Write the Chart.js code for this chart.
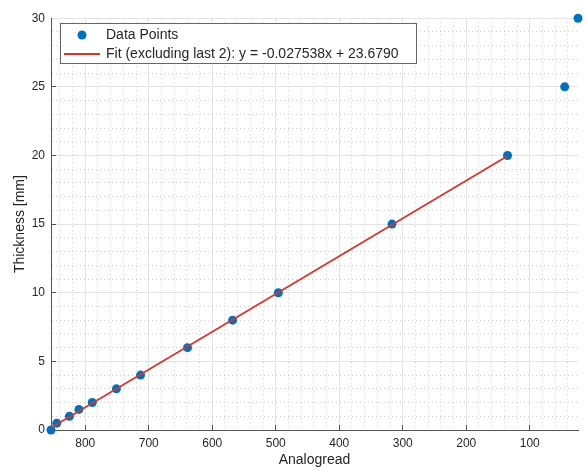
<!DOCTYPE html>
<html>
<head>
<meta charset="utf-8">
<script src="https://cdn.jsdelivr.net/npm/chart.js@4.4.0/dist/chart.umd.min.js"></script>
<style>
  html, body { margin: 0; padding: 0; background: #fff; }
  #wrap { width: 585px; height: 471px; }
</style>
</head>
<body>
<div id="wrap"><canvas id="myChart" width="585" height="471"></canvas></div>
<script>
// valores
const analog = [854, 845, 825, 810, 789, 751, 713, 639, 568, 496, 317, 135, 45, 24];
const thickness = [0, 0.5, 1, 1.5, 2, 3, 4, 6, 8, 10, 15, 20, 25, 30];
const xTicks = [800, 700, 600, 500, 400, 300, 200, 100];
const yTicks = [0, 5, 10, 15, 20, 25, 30];
const slope = -0.027538;
const intercept = 23.6790;
const fitLabel = 'Fit (excluding last 2): y = -0.027538x + 23.6790';

const fitX = [analog[0], analog[analog.length - 3]];
const fitPts = fitX.map(x => ({x: x, y: slope * x + intercept}));
const pts = analog.map((a, i) => ({x: a, y: thickness[i]}));

const blue = '#0072BD';
const red = '#d9342b';
const txt = '#262626';
const font = 'Liberation Sans, Arial, Helvetica, sans-serif';

function icon(w, h, draw) {
    const c = document.createElement('canvas');
    c.width = w; c.height = h;
    draw(c.getContext('2d'));
    return c;
}
const dotIcon = icon(10, 10, g => { g.fillStyle = blue; g.beginPath(); g.arc(5, 5, 4.5, 0, Math.PI * 2); g.fill(); });
const lineIcon = icon(36, 2, g => { g.fillStyle = red; g.fillRect(0, 0, 36, 2); });
const icons = [dotIcon, lineIcon];

const isMajorX = v => xTicks.includes(v);
const isMajorY = v => yTicks.includes(v);

// moldura da legenda dentro do grafico
const legendBox = {
    id: 'legendBox',
    afterLayout(chart) {
        const lg = chart.legend;
        lg.left = 60; lg.right = 417;
        lg.top = 23; lg.bottom = chart.chartArea.bottom;
    },
    afterDraw(chart) {
        const c = chart.ctx;
        c.save();
        c.fillStyle = '#fff';
        c.fillRect(60, 23, 357, 41);
        c.strokeStyle = '#666';
        c.lineWidth = 1;
        c.strokeRect(60.5, 23.5, 356, 40);
        c.restore();
        chart.legend.draw();
    }
};

new Chart('myChart', {
    type: 'scatter',
    data: {
        datasets: [{
            label: 'Data Points',
            data: pts,
            backgroundColor: blue,
            borderColor: blue,
            pointRadius: 4.5,
            pointHoverRadius: 4.5,
            borderWidth: 0,
            clip: false,
            order: 2
        }, {
            label: fitLabel,
            type: 'line',
            data: fitPts,
            borderColor: red,
            backgroundColor: red,
            borderWidth: 1.8,
            pointRadius: 0,
            fill: false,
            order: 1
        }]
    },
    plugins: [legendBox],
    options: {
        responsive: false,
        animation: false,
        layout: {padding: {top: 14, right: 7, left: 0, bottom: 0}},
        plugins: {
            tooltip: {enabled: false},
            legend: {
                position: 'chartArea',
                align: 'start',
                labels: {
                    usePointStyle: true,
                    pointStyleWidth: 34,
                    padding: 5,
                    color: txt,
                    font: {family: font, size: 14},
                    sort: (a, b) => a.datasetIndex - b.datasetIndex,
                    generateLabels: chart => Chart.defaults.plugins.legend.labels.generateLabels(chart)
                        .map(l => Object.assign(l, {pointStyle: icons[l.datasetIndex]}))
                }
            }
        },
        scales: {
            x: {
                type: 'linear',
                reverse: true,
                min: analog[analog.length - 1],
                max: analog[0],
                afterFit: s => { s.height = 41; },
                ticks: {
                    stepSize: 20,
                    autoSkip: false,
                    includeBounds: false,
                    maxRotation: 0,
                    padding: 11,
                    color: txt,
                    font: {family: font, size: 12},
                    callback: v => isMajorX(v) ? v : ''
                },
                grid: {
                    color: c => c.tick && isMajorX(c.tick.value) ? '#e4e4e4' : '#cdcdcd',
                    tickLength: -5,
                    tickColor: c => c.tick && isMajorX(c.tick.value) ? '#555' : 'rgba(0,0,0,0)',
                    tickBorderDash: []
                },
                border: {
                    color: '#555',
                    dash: c => c.tick && !isMajorX(c.tick.value) ? [1, 3] : []
                },
                title: {
                    display: true,
                    text: 'Analogread',
                    color: txt,
                    font: {family: font, size: 14},
                    padding: {top: 0, bottom: 2}
                }
            },
            y: {
                min: 0,
                max: 30,
                afterFit: s => { s.width = 51; },
                ticks: {
                    stepSize: 1,
                    autoSkip: false,
                    padding: 11,
                    color: txt,
                    font: {family: font, size: 12},
                    callback: v => isMajorY(v) ? v : ''
                },
                grid: {
                    color: c => c.tick && isMajorY(c.tick.value) ? '#e4e4e4' : '#cdcdcd',
                    tickLength: -5,
                    tickColor: c => c.tick && isMajorY(c.tick.value) && c.tick.value > 0 && c.tick.value < 30 ? '#555' : 'rgba(0,0,0,0)',
                    tickBorderDash: []
                },
                border: {
                    color: '#555',
                    dash: c => c.tick && !isMajorY(c.tick.value) ? [1, 3] : []
                },
                title: {
                    display: true,
                    text: 'Thickness [mm]',
                    color: txt,
                    font: {family: font, size: 14},
                    padding: {top: 12, bottom: 0}
                }
            }
        }
    }
});
</script>
</body>
</html>
